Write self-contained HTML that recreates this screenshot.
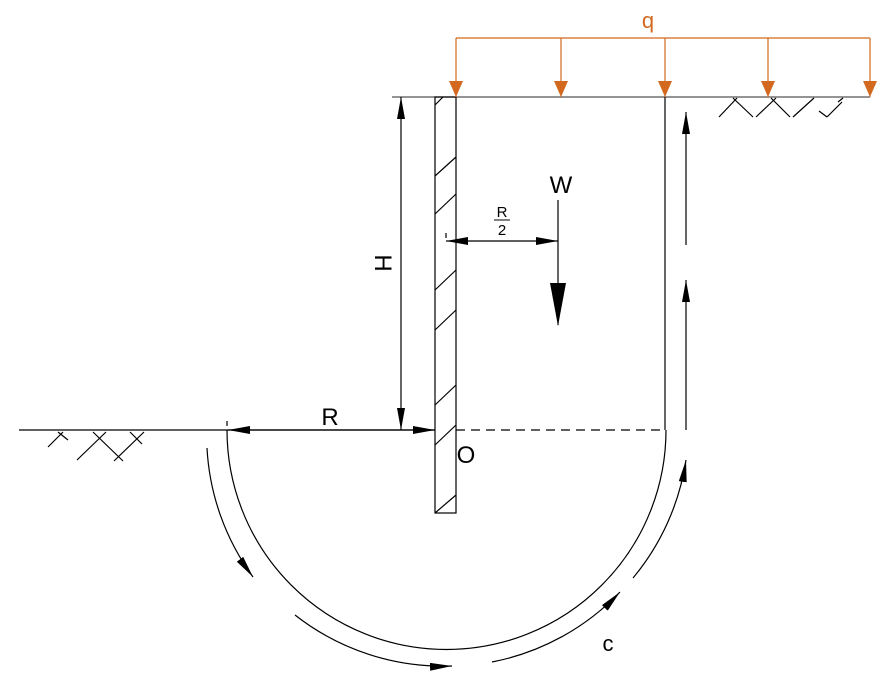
<!DOCTYPE html>
<html><head><style>body{margin:0;background:#fff}svg{display:block}</style></head><body>
<svg width="894" height="685" viewBox="0 0 894 685" xmlns="http://www.w3.org/2000/svg" font-family="Liberation Sans, sans-serif">
<defs>
<marker id="a" viewBox="0 0 22 8" refX="22" refY="4" markerWidth="22" markerHeight="8" markerUnits="userSpaceOnUse" orient="auto-start-reverse"><path d="M0,0L22,4L0,8z" fill="#000"/></marker>
<marker id="o" viewBox="0 0 16 14" refX="16" refY="7" markerWidth="16" markerHeight="14" markerUnits="userSpaceOnUse" orient="auto"><path d="M0,0L16,7L0,14z" fill="#d2691e"/></marker>
</defs>
<g stroke="#000" stroke-width="1.2" fill="none">
<line x1="392" y1="97" x2="870" y2="97" stroke="#555"/>
<line x1="19" y1="430" x2="435" y2="430"/>
<rect x="435" y="97" width="21" height="416"/>
<path d="M435,105L443,97M435,176L456,157M435,214L456,194M435,290L456,270M435,330L456,310M435,405L456,385M435,445L456,425M435,513L456,495"/>
<line x1="665" y1="97" x2="665" y2="430"/>
<line x1="456" y1="430" x2="666" y2="430" stroke-dasharray="9,6"/>
<path d="M227,430A219.5,219.5 0 0 0 666,430"/>
<line x1="227" y1="421" x2="227" y2="426"/>
<line x1="446" y1="233" x2="446" y2="238"/>
<path d="M48,447L63,432M58,432L68,440M77,460L106,432M93,432L123,461M114,461L144,432M130,432L142,444"/>
<path d="M719,117L737,98M733,98L753,117M756,117L776,98M771,98L790,117M793,117L814,98M819,111L827,117M827,117L842,102M838,102L843,98"/>
<line x1="228" y1="430" x2="435" y2="430" marker-start="url(#a)" marker-end="url(#a)"/>
<line x1="401" y1="97" x2="401" y2="430" marker-start="url(#a)" marker-end="url(#a)"/>
<line x1="446" y1="241" x2="558" y2="241" marker-start="url(#a)" marker-end="url(#a)"/>
<line x1="558" y1="200" x2="558" y2="325"/>
<line x1="686" y1="430" x2="686" y2="280" marker-end="url(#a)"/>
<line x1="686" y1="245" x2="686" y2="112" marker-end="url(#a)"/>
<path d="M207,448A240,240 0 0 0 253,577" marker-end="url(#a)"/>
<path d="M295,615A240,240 0 0 0 452,666" marker-end="url(#a)"/>
<path d="M492,662A240,240 0 0 0 620,592" marker-end="url(#a)"/>
<path d="M633,578A240,240 0 0 0 686,460" marker-end="url(#a)"/>
</g>
<path d="M550,283L566,283L558,326z" fill="#000"/>
<g stroke="#d2691e" stroke-width="1.2" fill="none">
<line x1="456" y1="38" x2="870" y2="38"/>
<line x1="456" y1="38" x2="456" y2="97" marker-end="url(#o)"/>
<line x1="561" y1="38" x2="561" y2="97" marker-end="url(#o)"/>
<line x1="665" y1="38" x2="665" y2="97" marker-end="url(#o)"/>
<line x1="768" y1="38" x2="768" y2="97" marker-end="url(#o)"/>
<line x1="870" y1="38" x2="870" y2="97" marker-end="url(#o)"/>
</g>
<text x="648" y="28" font-size="22" fill="#d2691e" text-anchor="middle">q</text>
<text x="561" y="193" font-size="24" text-anchor="middle">W</text>
<text x="502" y="217" font-size="15" text-anchor="middle">R</text>
<line x1="494" y1="220" x2="510" y2="220" stroke="#000" stroke-width="1"/>
<text x="502" y="235" font-size="15" text-anchor="middle">2</text>
<text x="330" y="425" font-size="24" text-anchor="middle">R</text>
<text x="466" y="463" font-size="24" text-anchor="middle">O</text>
<text x="608" y="651" font-size="22" text-anchor="middle">c</text>
<text transform="translate(375,263) rotate(90)" font-size="24" text-anchor="middle">H</text>
</svg>
</body></html>
